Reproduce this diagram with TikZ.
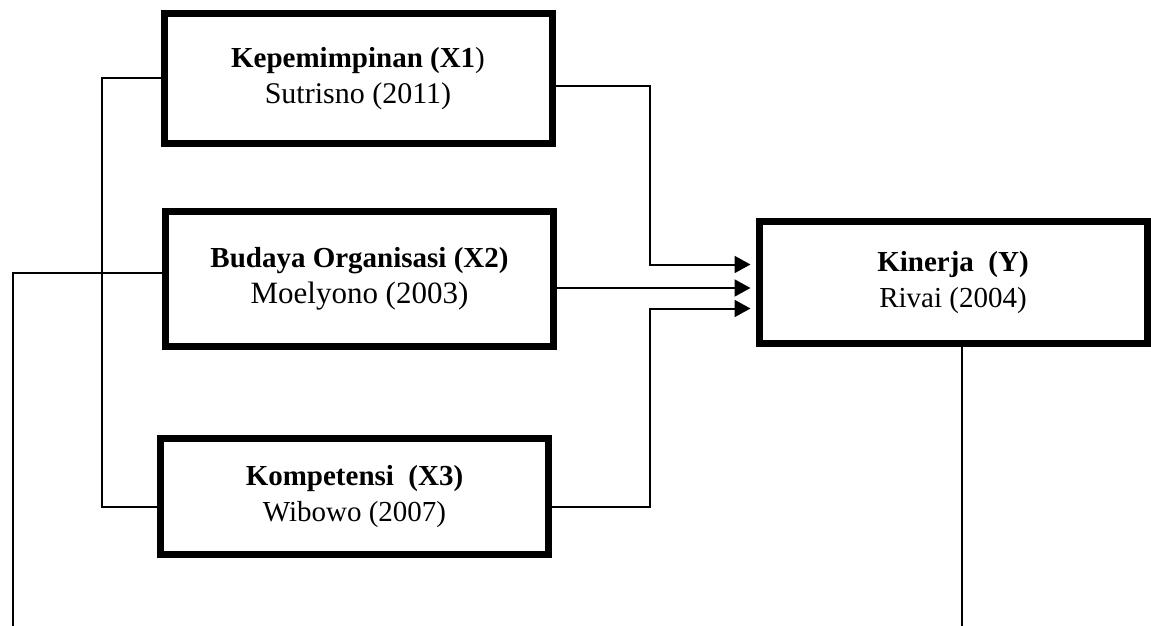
\documentclass[tikz,border=0pt]{standalone}
\usepackage{fontspec}
\setmainfont{Liberation Serif}
\usetikzlibrary{arrows.meta,positioning}
\tikzset{box/.style={draw,line width=3.5pt,align=center,minimum width=194pt,font=\fontsize{14.5}{18}\selectfont},ln/.style={line width=1pt},arr/.style={-{Triangle[length=8pt,width=8.5pt]},line width=1pt,shorten >=2.5pt}}

\begin{document}
\begin{tikzpicture}[x=.5pt,y=-.5pt]
\useasboundingbox (0,0) rectangle (1151,626);
\node[box,minimum height=65pt] (x1) at (358,78.5) {\textbf{Kepemimpinan (X1})\\{\fontsize{15}{18}\selectfont Sutrisno (2011)}};
\node[box,minimum height=67.5pt] (x2) at (359.5,279) {\textbf{Budaya Organisasi (X2)}\\{\fontsize{15.5}{18}\selectfont Moelyono (2003)}};
\node[box,minimum height=58pt] (x3) at (354.5,496.5) {\textbf{Kompetensi~ (X3)}\\Wibowo (2007)};
\node[box,minimum height=61pt] (ky) at (953,282.5) {\textbf{Kinerja~ (Y)}\\Rivai (2004)};
\coordinate (lb) at (13,626);\coordinate (rb) at (962,626);
\draw[ln] (x1.west) -- ++(-29.5pt,0) |- ([yshift=-5pt]x3.west);\draw[ln] ([yshift=3pt]x2.west) -| (lb);
\draw[arr] ([yshift=-4pt]x1.east) -- ++(47pt,0) |- ([yshift=9pt]ky.west);\draw[arr] ([yshift=-4.5pt]x2.east) -- ([yshift=-4.5pt]x2.east -| ky.west);\draw[arr] ([yshift=-5pt]x3.east) -- ++(49pt,0) |- ([yshift=-13pt]ky.west);
\draw[ln] ([xshift=4.5pt]ky.south) -- (rb);
\end{tikzpicture}
\end{document}
